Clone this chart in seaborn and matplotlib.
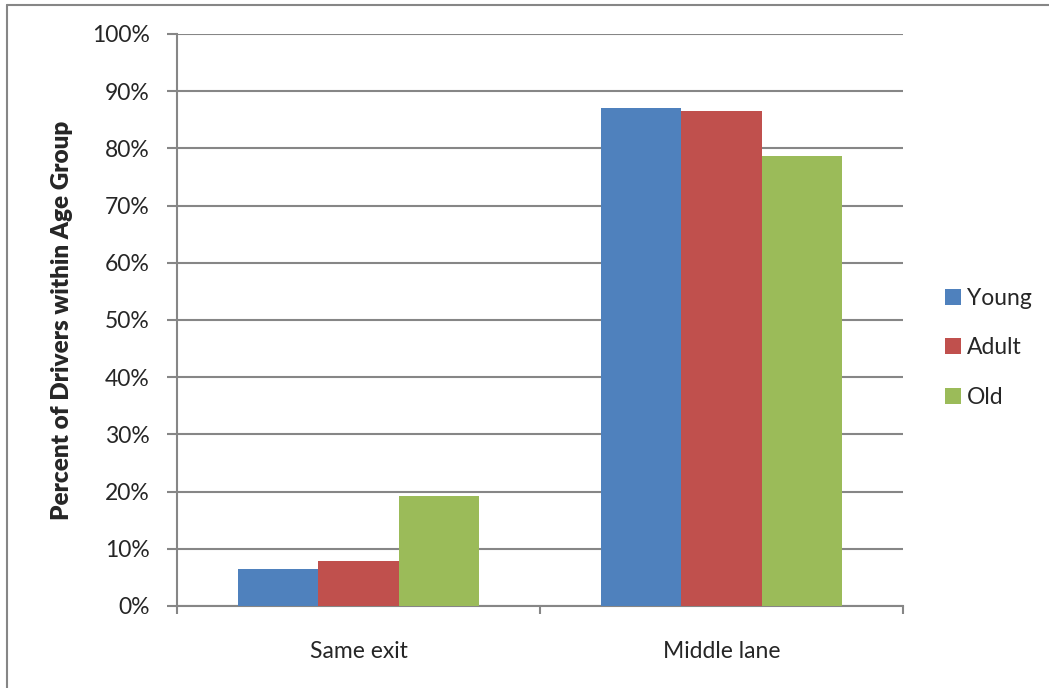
#!/usr/bin/env python3
"""Share of drivers per lane choice, split by age group."""

import matplotlib
matplotlib.use('Agg')
import matplotlib.pyplot as plt
from matplotlib.lines import Line2D
from matplotlib.ticker import PercentFormatter, FixedLocator
import pandas as pd
import seaborn as sns

# Data
situations = ['Same exit', 'Middle lane']
age_groups = ['Young', 'Adult', 'Old']
young = [0.064, 0.870]
adult = [0.078, 0.866]
old = [0.192, 0.786]

colors = ['#4F81BD', '#C0504D', '#9BBB59']
grid_grey = '#868686'
fs = 16.5

sns.set_theme(style='white')
plt.rcParams['font.family'] = ['Lato', 'DejaVu Sans']

df = pd.DataFrame({
    'Situation': situations * 3,
    'Age': [g for g in age_groups for _ in situations],
    'Share': young + adult + old,
})

fig = plt.figure(figsize=(10.49, 6.88), dpi=100)
ax = fig.add_axes([177 / 1049, 1 - 606 / 688, (903 - 177) / 1049, (606 - 34) / 688])

sns.barplot(data=df, x='Situation', y='Share', hue='Age', order=situations,
            hue_order=age_groups, palette=colors, width=0.665, saturation=1,
            edgecolor='none', linewidth=0, ax=ax, zorder=3)

ax.set_xlim(-0.5, 1.5)
ax.set_ylim(0, 1)
ax.yaxis.set_major_locator(FixedLocator([i / 10 for i in range(11)]))
ax.yaxis.set_major_formatter(PercentFormatter(1.0, decimals=0))
ax.grid(axis='y', color=grid_grey, linewidth=1.5, zorder=0)
ax.set_axisbelow(True)

for side in ['top', 'right']:
    ax.spines[side].set_visible(False)
for side in ['left', 'bottom']:
    ax.spines[side].set_color(grid_grey)
    ax.spines[side].set_linewidth(1.5)

# category labels centred, tick marks on the boundaries
ax.set_xticks([0, 1])
ax.set_xticklabels(situations, fontsize=fs)
ax.tick_params(axis='x', length=0, pad=25)
ax.set_xticks([-0.5, 0.5, 1.5], minor=True)
ax.tick_params(axis='x', which='minor', direction='out', length=6,
               width=1.5, color=grid_grey, bottom=True)
ax.tick_params(axis='y', direction='out', length=7, width=1.5,
               color=grid_grey, left=True, labelsize=fs, pad=12.5)

ax.set_xlabel('')
ax.set_ylabel('Percent of Drivers within Age Group', fontsize=17.5,
              fontweight='heavy', labelpad=14)

ax.legend(loc='center left', bbox_to_anchor=(945 / 1049, 1 - 348 / 688),
          bbox_transform=fig.transFigure, borderpad=0, borderaxespad=0,
          frameon=False, fontsize=fs, handlelength=0.7, handleheight=0.7,
          handletextpad=0.25, labelspacing=1.25, title=None)

# chart area border (top and left edges visible)
fig.add_artist(Line2D([7 / 1049, 1], [1 - 5 / 688, 1 - 5 / 688],
                      transform=fig.transFigure, color=grid_grey, linewidth=1.5))
fig.add_artist(Line2D([7 / 1049, 7 / 1049], [0, 1 - 5 / 688],
                      transform=fig.transFigure, color=grid_grey, linewidth=1.5))

fig.savefig('out.png', dpi=100)
plt.close(fig)
